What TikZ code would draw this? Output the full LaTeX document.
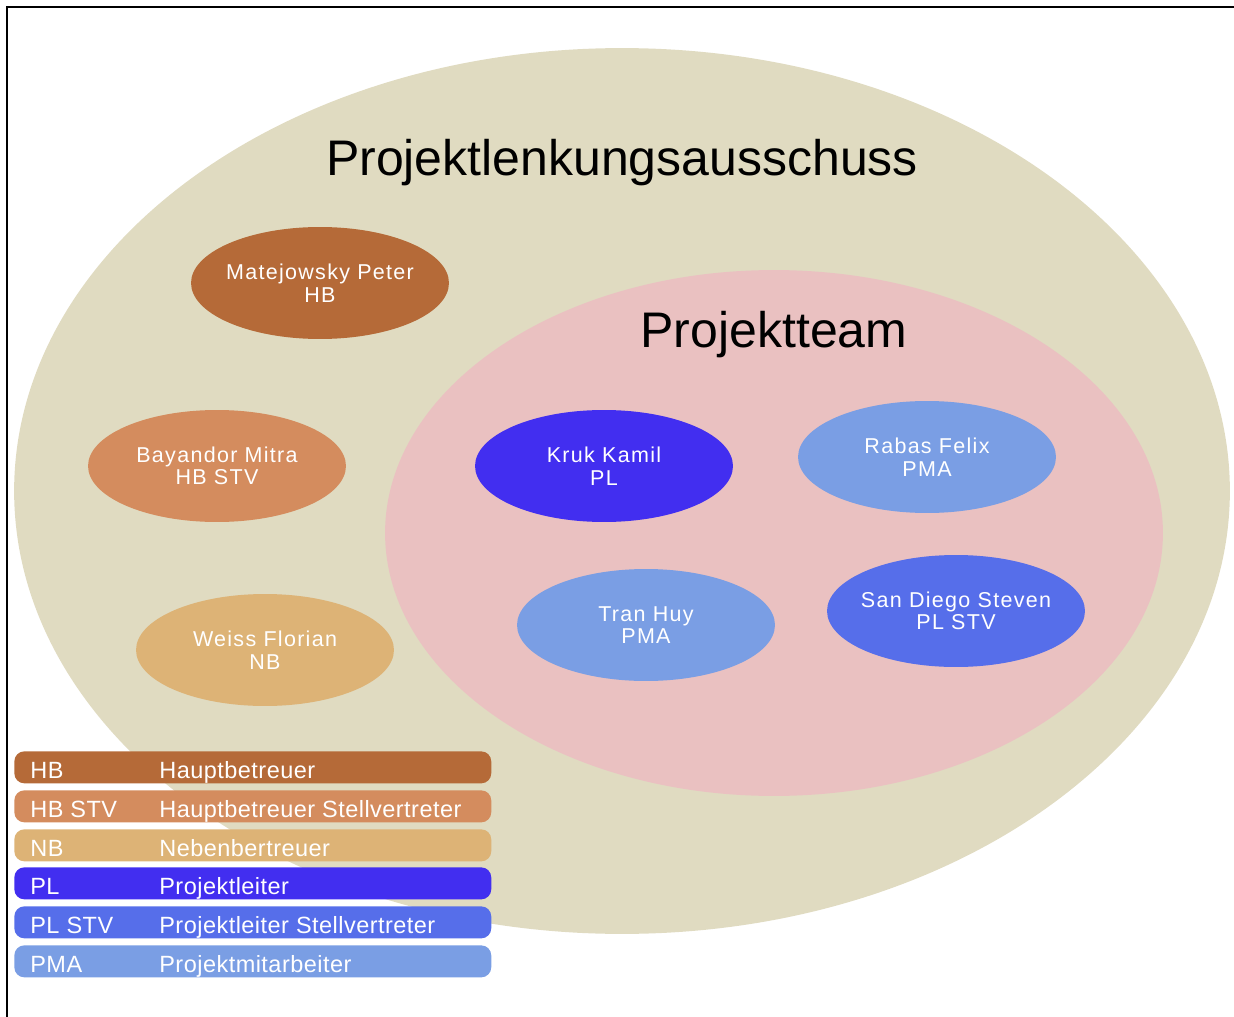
\documentclass[tikz,border=0pt]{standalone}
\usepackage{fontspec}
\setmainfont{Liberation Sans}
\newfontfamily\namefont[LetterSpace=6]{Liberation Sans}
\newfontfamily\legendfont[LetterSpace=2]{Liberation Sans}
\usepackage{tikz}
\usetikzlibrary{shapes.geometric,positioning}
\definecolor{committeebeige}{RGB}{224, 219, 193}
\definecolor{teampink}{RGB}{234, 193, 193}
\definecolor{hbbrown}{RGB}{181, 106, 56}
\definecolor{hbstvorange}{RGB}{212, 140, 94}
\definecolor{nbsand}{RGB}{221, 179, 118}
\definecolor{plblue}{RGB}{66, 46, 240}
\definecolor{plstvblue}{RGB}{86, 110, 234}
\definecolor{pmablue}{RGB}{122, 158, 228}

\tikzset{
    person/.style={ellipse, inner xsep=-0.3cm, inner ysep=0pt, minimum width=5.16cm, minimum height=2.24cm,
        text=white, align=center, font=\namefont\fontsize{0.43cm}{0.45cm}\selectfont},
    groupname/.style={anchor=base, font=\fontsize{1.0cm}{1.2cm}\selectfont},
    legendbar/.style={rectangle, rounded corners=0.2cm, anchor=north west,
        minimum width=9.54cm, minimum height=0.64cm, inner sep=0pt},
    legendtxt/.style={anchor=base west, text=white, inner sep=0pt,
        font=\legendfont\fontsize{0.47cm}{0.56cm}\selectfont}
}

\begin{document}
\begin{tikzpicture}[x=0.02cm, y=-0.02cm]
    \useasboundingbox (0,0) rectangle (1234,1017);
    % frame
    \draw[line width=0.04cm] (7,1017) -- (7,7) -- (1234,7);

    % steering committee and project team
    \node[ellipse, fill=committeebeige, minimum width=24.32cm, minimum height=17.72cm, inner sep=0pt] (committee) at (622,491) {};
    \node[groupname] (committeetitle) at (622,175) {Projektlenkungsausschuss};
    \node[ellipse, fill=teampink, minimum width=15.56cm, minimum height=10.52cm, inner sep=0pt] (team) at (774,533) {};
    \node[groupname] (teamtitle) at (774,347) {Projektteam};

    % supervisors
    \node[person, fill=hbbrown] (matejowsky) at (320,283) {Matejowsky Peter\\HB};
    \node[person, fill=hbstvorange] (bayandor) at (217,466) {Bayandor Mitra\\HB STV};
    \node[person, fill=nbsand] (weiss) at (265,650) {Weiss Florian\\NB};

    % team members
    \node[person, fill=plblue] (kruk) at (604,466) {Kruk Kamil\\PL};
    \node[person, fill=pmablue] (rabas) at (927,457) {Rabas Felix\\PMA};
    \node[person, fill=pmablue] (tran) at (646,625) {Tran Huy\\PMA};
    \node[person, fill=plstvblue] (sandiego) at (956,611) {San Diego Steven\\PL STV};

    % legend
    \node[legendbar, fill=hbbrown] (barhb) at (14,751) {};
    \node[legendtxt] (keyhb) at (30,778) {HB};
    \node[legendtxt] (deschb) at (159,778) {Hauptbetreuer};

    \node[legendbar, fill=hbstvorange] (barhbstv) at (14,790) {};
    \node[legendtxt] (keyhbstv) at (30,817) {HB STV};
    \node[legendtxt] (deschbstv) at (159,817) {Hauptbetreuer Stellvertreter};

    \node[legendbar, fill=nbsand] (barnb) at (14,829) {};
    \node[legendtxt] (keynb) at (30,856) {NB};
    \node[legendtxt] (descnb) at (159,856) {Nebenbertreuer};

    \node[legendbar, fill=plblue] (barpl) at (14,867) {};
    \node[legendtxt] (keypl) at (30,894) {PL};
    \node[legendtxt] (descpl) at (159,894) {Projektleiter};

    \node[legendbar, fill=plstvblue] (barplstv) at (14,906) {};
    \node[legendtxt] (keyplstv) at (30,933) {PL STV};
    \node[legendtxt] (descplstv) at (159,933) {Projektleiter Stellvertreter};

    \node[legendbar, fill=pmablue] (barpma) at (14,945) {};
    \node[legendtxt] (keypma) at (30,972) {PMA};
    \node[legendtxt] (descpma) at (159,972) {Projektmitarbeiter};
\end{tikzpicture}
\end{document}
